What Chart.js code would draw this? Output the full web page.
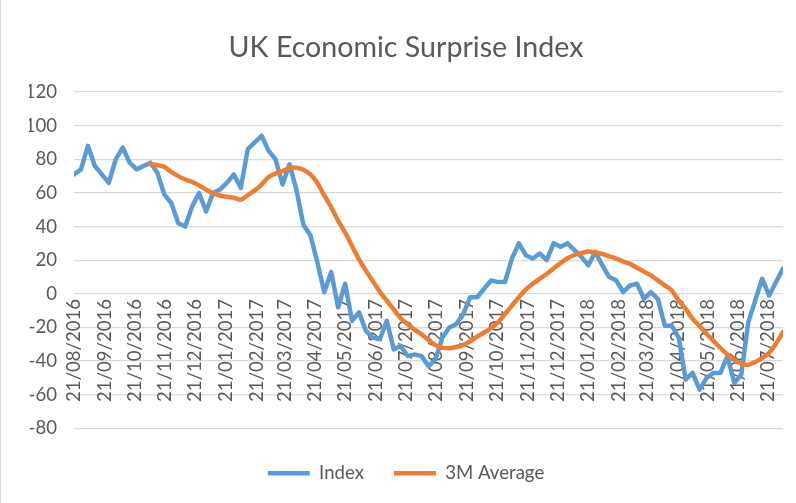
<!DOCTYPE html>
<html>
<head>
<meta charset="utf-8">
<title>UK Economic Surprise Index</title>
<script src="https://cdn.jsdelivr.net/npm/chart.js@4/dist/chart.umd.min.js"></script>
<style>
  html, body { margin: 0; padding: 0; background: #fff; }
  #wrap { position: relative; width: 796px; height: 503px; }
  #frame { position: absolute; left: 0; top: 0; width: 796px; height: 503px; box-sizing: border-box;
           border-left: 1px solid #d9d9d9; pointer-events: none; }
</style>
</head>
<body>
<div id="wrap">
  <canvas id="chart" width="796" height="503"></canvas>
  <div id="frame"></div>
</div>
<script>
// weekly readings, first one on 21/08/2016
const startDate = '21/08/2016';
const stepDays = 7;

const tickLabels = ['21/08/2016','21/09/2016','21/10/2016','21/11/2016','21/12/2016',
  '21/01/2017','21/02/2017','21/03/2017','21/04/2017','21/05/2017','21/06/2017',
  '21/07/2017','21/08/2017','21/09/2017','21/10/2017','21/11/2017','21/12/2017',
  '21/01/2018','21/02/2018','21/03/2018','21/04/2018','21/05/2018','21/06/2018','21/07/2018'];

const indexValues = [71, 74, 88, 76, 71, 66, 80, 87, 78, 74,
  76, 78, 72, 59, 54, 42, 40, 52, 60, 49,
  60, 62, 66, 71, 63, 86, 90, 94, 85, 80,
  65, 77, 62, 41, 35, 19, 1, 13, -8, 6,
  -16, -11, -22, -26, -27, -16, -33, -31, -37, -36,
  -37, -43, -39, -26, -20, -18, -12, -2, -2, 3,
  8, 7, 7, 21, 30, 23, 21, 24, 20, 30,
  28, 30, 26, 22, 17, 25, 17, 10, 8, 1,
  5, 6, -3, 1, -3, -19, -19, -26, -51, -47,
  -57, -50, -47, -47, -37, -53, -48, -17, -4, 9,
  -1, 7, 15];

const avgValues = [null, null, null, null, null, null, null, null, null, null, null,
  77, 76.5, 75.5, 72.5, 70, 68, 66.5, 64.5, 62, 59.7,
  58.5, 57.7, 57.2, 56, 58.7, 61.5, 65, 69.5, 71.5, 73,
  74.8, 75, 73.8, 71, 66, 58.5, 51.5, 43.5, 36.5, 28.5,
  20.5, 13.8, 7.5, 1.2, -4, -9.3, -14.5, -18, -21.3, -24,
  -27.5, -30.5, -32, -32.4, -31.6, -30.3, -28.2, -25.4, -23, -20.3,
  -17, -12, -7, -2, 2.5, 6, 9, 11.8, 15.1, 18.3,
  21.2, 23.1, 24.3, 25.2, 24.6, 23.7, 22.3, 21, 19.3, 17.8,
  15.5, 13.2, 11, 8, 5, 2, -4, -9, -14.8, -19.2,
  -23.7, -28, -32.2, -36, -39.3, -41.5, -42.2, -40.5, -38.2, -35,
  -29.5, -22.7];

const yTicks = [-80, -60, -40, -20, 0, 20, 40, 60, 80, 100, 120];

function dayNum(s){
  const [d, m, y] = s.split('/').map(Number);
  return Date.UTC(y, m - 1, d) / 864e5;
}
const day0 = dayNum(startDate);
const tickDays = tickLabels.map(s => dayNum(s) - day0);
const pts = arr => arr.map((v, i) => ({ x: i * stepDays, y: v }));

const grey = '#595959';
const font = 'Lato';

new Chart(document.getElementById('chart'), {
  type: 'line',
  data: {
    datasets: [
      { label: 'Index', data: pts(indexValues), borderColor: '#5B9BD5', backgroundColor: '#5B9BD5',
        borderWidth: 4.5, pointRadius: 0, tension: 0, borderCapStyle: 'round', borderJoinStyle: 'round', order: 2 },
      { label: '3M Average', data: pts(avgValues), borderColor: '#ED7D31', backgroundColor: '#ED7D31',
        borderWidth: 4.5, pointRadius: 0, tension: 0.3, borderCapStyle: 'round', borderJoinStyle: 'round', order: 1 }
    ]
  },
  options: {
    responsive: false,
    animation: false,
    devicePixelRatio: 1,
    layout: { padding: { left: 29, right: 13, top: 0, bottom: 10.5 } },
    scales: {
      x: {
        type: 'linear',
        position: { y: 0 },
        min: 0,
        max: (indexValues.length - 1) * stepDays,
        grid: { display: false, drawTicks: false },
        border: { display: false },
        afterBuildTicks: s => { s.ticks = tickDays.map(v => ({ value: v })); },
        ticks: {
          autoSkip: false, minRotation: 90, maxRotation: 90, padding: 5,
          color: grey, font: { family: font, size: 18.6 },
          callback: (v, i) => tickLabels[i]
        }
      },
      y: {
        min: yTicks[0], max: yTicks[yTicks.length - 1],
        afterBuildTicks: s => { s.ticks = yTicks.map(v => ({ value: v })); },
        afterFit: s => { s.width = 45; },
        grid: { color: '#d9d9d9', lineWidth: 1.3, drawTicks: false },
        border: { display: false },
        ticks: { padding: 17, color: grey, font: { family: font, size: 18.6 } }
      }
    },
    plugins: {
      tooltip: { enabled: false },
      title: {
        display: true, text: 'UK Economic Surprise Index', color: grey,
        font: { family: font, size: 28.6, weight: 'normal', lineHeight: 1.2 },
        padding: { top: 30.8, bottom: 26.9 }
      },
      legend: {
        position: 'bottom',
        title: { display: true, text: '', font: { size: 1, lineHeight: 1 }, padding: { top: 4.5, bottom: 0 } },
        labels: {
          usePointStyle: true, pointStyle: 'line', pointStyleWidth: 42,
          padding: 30, color: grey, font: { family: font, size: 18.6 },
          sort: (a, b) => a.datasetIndex - b.datasetIndex
        }
      }
    }
  }
});
</script>
</body>
</html>
